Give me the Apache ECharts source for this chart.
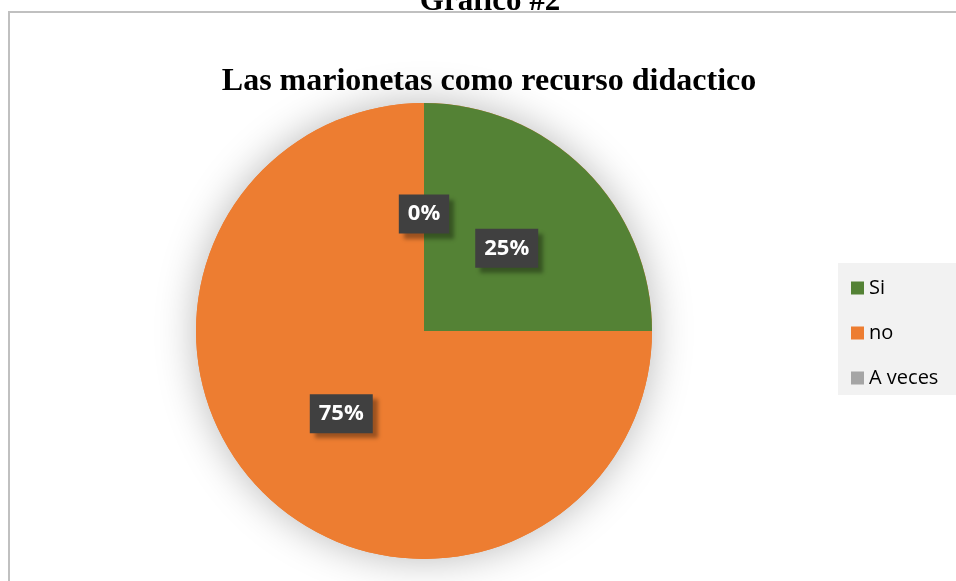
<!DOCTYPE html>
<html><head><meta charset="utf-8">
<script src="https://cdn.jsdelivr.net/npm/echarts@6/dist/echarts.min.js"></script>
<style>html,body{margin:0;padding:0;background:#fff}#c{width:956px;height:581px}</style>
</head><body><div id="c"></div>
<script>
const categories = ['Si', 'no', 'A veces'];
const values = [25, 75, 0];
const colors = ['#548235', '#ED7D31', '#A5A5A5'];
const chartTitle = 'Las marionetas como recurso didactico';
const topTitle = 'Grafico #2';

const total = values.reduce((a, b) => a + b, 0);
const chart = echarts.init(document.getElementById('c'));
chart.setOption({
  backgroundColor: '#ffffff',
  animation: false,
  graphic: [
    {type: 'rect', shape: {x: 9, y: 12, width: 960, height: 600}, style: {fill: 'none', stroke: '#C0C0C0', lineWidth: 2}, z: -1},
    {type: 'text', x: 490, y: 17, style: {text: topTitle, font: 'bold 31px "Liberation Serif", "Times New Roman", serif', fill: '#000', textAlign: 'center', textVerticalAlign: 'bottom'}, z: 10}
  ],
  title: {
    text: chartTitle, left: 484, textAlign: 'center', top: 61,
    textStyle: {fontFamily: '"Liberation Serif", "Times New Roman", serif', fontWeight: 'bold', fontSize: 32, color: '#000'}
  },
  legend: {
    orient: 'vertical', left: 838, top: 263,
    backgroundColor: '#F2F2F2',
    padding: [15, 30, 7, 13],
    itemWidth: 13, itemHeight: 13, itemGap: 25,
    icon: 'rect',
    textStyle: {fontFamily: '"Open Sans", "Noto Sans", sans-serif', fontSize: 20, color: '#000'},
    data: categories
  },
  series: [{
    type: 'pie',
    silent: true,
    center: [424, 331],
    radius: [0, 228],
    z: 1,
    data: [{name: '_shadow', value: total}],
    itemStyle: {color: '#ED7D31', shadowBlur: 40, shadowColor: 'rgba(0,0,0,0.28)'},
    label: {show: false}, labelLine: {show: false},
    emphasis: {disabled: true}, tooltip: {show: false}
  }, {
    type: 'pie',
    center: [424, 331],
    radius: [0, 228],
    z: 2,
    startAngle: 90,
    clockwise: true,
    data: categories.map((c, i) => ({name: c, value: values[i], itemStyle: {color: colors[i]}})),
    itemStyle: {borderWidth: 0},
    label: {
      show: true, position: 'inside',
      formatter: p => Math.round(p.percent) + '%',
      color: '#fff', fontWeight: 'bold', fontSize: 22,
      fontFamily: '"Open Sans", "Noto Sans", sans-serif',
      backgroundColor: '#404040', padding: [9, 9, 8, 9],
      shadowColor: 'rgba(0,0,0,0.35)', shadowOffsetX: 5, shadowOffsetY: 5, shadowBlur: 4
    },
    labelLine: {show: false},
    emphasis: {disabled: true}
  }]
});
</script></body></html>
